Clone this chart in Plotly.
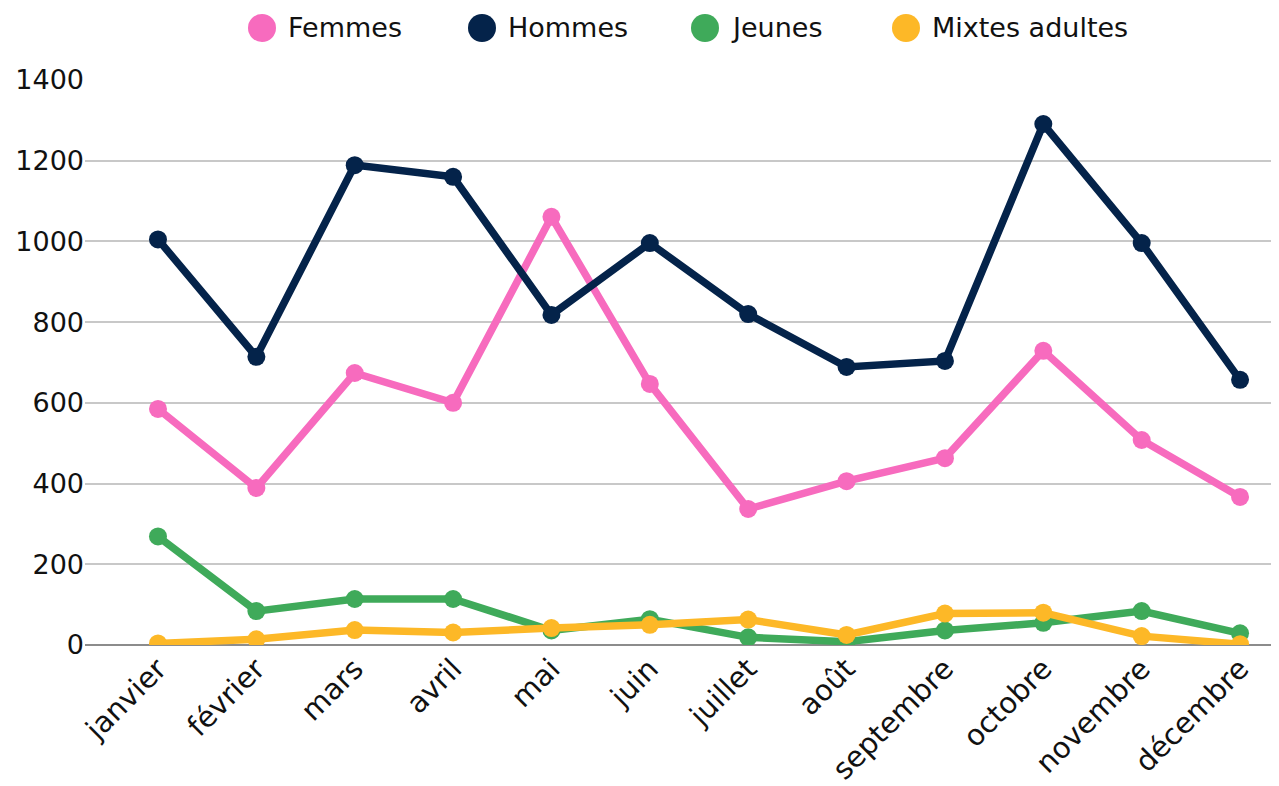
import plotly.graph_objects as go

months = ["janvier", "février", "mars", "avril", "mai", "juin", "juillet",
          "août", "septembre", "octobre", "novembre", "décembre"]
femmes = [585, 389, 674, 600, 1061, 647, 337, 406, 463, 729, 508, 367]
hommes = [1005, 714, 1189, 1160, 818, 996, 820, 689, 704, 1291, 996, 657]
jeunes = [269, 84, 114, 114, 36, 64, 19, 8, 36, 55, 84, 29]
mixtes = [4, 14, 37, 31, 42, 50, 63, 25, 78, 80, 22, 2]

series_names = ["Femmes", "Hommes", "Jeunes", "Mixtes adultes"]
series_values = [femmes, hommes, jeunes, mixtes]
colors = ["#F76BBE", "#04234A", "#3FAA5A", "#FDB827"]

FONT = "DejaVu Sans"
OFF = 8  # browser body margin

W, H = 1279 - OFF, 786 - OFF
L, T, B = 85 - OFF, 80 - OFF, 141
PW = W - L

fig = go.Figure()
for name, vals, col in zip(series_names, series_values, colors):
    fig.add_trace(go.Scatter(
        x=months, y=vals, name=name, mode="lines+markers",
        line=dict(color=col, width=7.5),
        marker=dict(color=col, size=18),
        showlegend=False,
    ))

# Manual legend with large circles
legend_x = [262, 482, 705, 906]
legend_y = 28
shapes = []
annotations = []
for name, col, cx in zip(series_names, colors, legend_x):
    px = cx - OFF
    py = legend_y - OFF
    yy = 1 + (T - py) / 565
    shapes.append(dict(
        type="circle", xref="paper", yref="paper",
        xsizemode="pixel", ysizemode="pixel",
        xanchor=(px - L) / PW, yanchor=yy,
        x0=-14, x1=14, y0=-14, y1=14,
        fillcolor=col, line=dict(width=0),
    ))
    annotations.append(dict(
        xref="paper", yref="paper",
        x=(px + 24 - L) / PW, y=yy,
        text=name, showarrow=False, xanchor="left", yanchor="middle",
        font=dict(family=FONT, size=27, color="#111111"),
    ))

fig.update_layout(
    width=W, height=H,
    margin=dict(l=L, r=0, t=T, b=B),
    paper_bgcolor="white", plot_bgcolor="white",
    font=dict(family=FONT, size=26, color="#111111"),
    shapes=shapes, annotations=annotations,
    xaxis=dict(
        type="category", range=[-0.742, 11.396],
        tickangle=-45, showgrid=False, zeroline=False,
        ticks="", tickfont=dict(family=FONT, size=29, color="#111111"),
        showline=False,
    ),
    yaxis=dict(
        range=[0, 1400], dtick=200, showgrid=True,
        gridcolor="#C8C8C8", gridwidth=1.5,
        zeroline=True, zerolinecolor="#8C8C8C", zerolinewidth=2,
        ticks="", tickfont=dict(family=FONT, size=27, color="#111111"),
        showline=False,
    ),
)

fig.write_html("out.html")
